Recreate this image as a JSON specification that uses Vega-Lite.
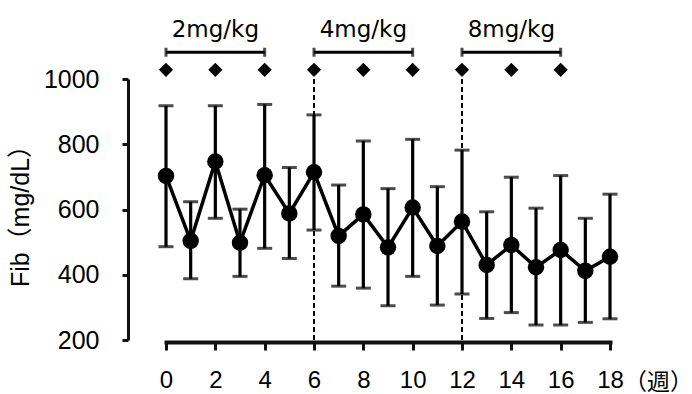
{
  "$schema": "https://vega.github.io/schema/vega-lite/v6.json",
  "width": 444,
  "height": 261,
  "autosize": {"type": "none"},
  "padding": {"left": 166, "top": 79, "right": 82, "bottom": 54},
  "background": "white",
  "config": {
    "view": {"stroke": null},
    "font": "Liberation Sans",
    "axis": {"grid": false, "domain": true, "domainColor": "#111111", "tickColor": "#111111", "labelColor": "black", "titleColor": "black", "domainWidth": 3, "tickWidth": 3, "titleFontWeight": "normal"},
    "axisX": {"domain": true, "domainColor": "#111111", "domainWidth": 4, "domainCap": "square", "tickColor": "#111111", "tickWidth": 3},
    "axisY": {"domain": true, "domainColor": "#111111", "domainWidth": 3, "tickColor": "#111111", "tickWidth": 3}
  },
  "datasets": {
    "fib": [
      {"week": 0, "mean": 703, "lo": 486, "hi": 918},
      {"week": 1, "mean": 504, "lo": 388, "hi": 624},
      {"week": 2, "mean": 747, "lo": 573, "hi": 918},
      {"week": 3, "mean": 498, "lo": 395, "hi": 601},
      {"week": 4, "mean": 705, "lo": 481, "hi": 922},
      {"week": 5, "mean": 588, "lo": 450, "hi": 729},
      {"week": 6, "mean": 714, "lo": 537, "hi": 890},
      {"week": 7, "mean": 519, "lo": 365, "hi": 675},
      {"week": 8, "mean": 585, "lo": 359, "hi": 810},
      {"week": 9, "mean": 484, "lo": 305, "hi": 664},
      {"week": 10, "mean": 606, "lo": 395, "hi": 815},
      {"week": 11, "mean": 488, "lo": 307, "hi": 670},
      {"week": 12, "mean": 563, "lo": 341, "hi": 782},
      {"week": 13, "mean": 430, "lo": 266, "hi": 593},
      {"week": 14, "mean": 491, "lo": 284, "hi": 699},
      {"week": 15, "mean": 423, "lo": 246, "hi": 604},
      {"week": 16, "mean": 476, "lo": 246, "hi": 704},
      {"week": 17, "mean": 412, "lo": 254, "hi": 573},
      {"week": 18, "mean": 455, "lo": 265, "hi": 647}
    ],
    "dose": [{"week": 0}, {"week": 2}, {"week": 4}, {"week": 6}, {"week": 8}, {"week": 10}, {"week": 12}, {"week": 14}, {"week": 16}],
    "period": [
      {"label": "2mg/kg", "start": 0, "end": 4, "mid": 2},
      {"label": "4mg/kg", "start": 6, "end": 10, "mid": 8},
      {"label": "8mg/kg", "start": 12, "end": 16, "mid": 14}
    ],
    "switch": [{"week": 6}, {"week": 12}]
  },
  "layer": [
    {
      "data": {"name": "switch"},
      "mark": {"type": "rule", "color": "black", "strokeWidth": 2, "strokeDash": [5, 3]},
      "encoding": {
        "x": {"field": "week", "type": "quantitative", "scale": {"domain": [0, 18], "nice": false, "zero": false},
              "axis": {"orient": "bottom", "domain": true, "domainColor": "#111111", "domainWidth": 4, "values": [0,1,2,3,4,5,6,7,8,9,10,11,12,13,14,15,16,17,18],
                       "labelExpr": "datum.value % 2 === 0 ? datum.label : ''",
                       "tickSize": 8, "offset": 2, "labelFontSize": 24, "labelPadding": 18, "labelFlush": false, "labelOverlap": false, "format": "d",
                       "encoding": {"ticks": {"update": {"y2": {"signal": "datum.value % 2 === 0 ? 8 : 4"}}}},
                       "title": "（週）", "titleFont": "Liberation Sans, Noto Sans CJK JP", "titleFontSize": 23, "titleAnchor": null, "titleAlign": "center", "titleBaseline": "alphabetic", "titleX": 492, "titleY": 47}},
        "y": {"datum": 200, "type": "quantitative", "scale": {"domain": [200, 1000], "nice": false, "zero": false},
              "axis": {"values": [200, 400, 600, 800, 1000], "format": "d", "tickSize": 6, "offset": 38, "labelFontSize": 25, "labelPadding": 23,
                       "title": "Fib（mg/dL）", "titleFont": "Liberation Sans, Noto Sans CJK JP", "titleFontSize": 25, "titlePadding": 10}},
        "y2": {"datum": 1028}
      }
    },
    {
      "data": {"name": "fib"},
      "mark": {"type": "rule", "color": "black", "strokeWidth": 3.2},
      "encoding": {
        "x": {"field": "week", "type": "quantitative"},
        "y": {"field": "lo", "type": "quantitative"},
        "y2": {"field": "hi"}
      }
    },
    {
      "data": {"name": "fib"},
      "mark": {"type": "tick", "color": "black", "orient": "horizontal", "size": 15, "thickness": 3},
      "encoding": {
        "x": {"field": "week", "type": "quantitative"},
        "y": {"field": "hi", "type": "quantitative"}
      }
    },
    {
      "data": {"name": "fib"},
      "mark": {"type": "tick", "color": "black", "orient": "horizontal", "size": 15, "thickness": 3},
      "encoding": {
        "x": {"field": "week", "type": "quantitative"},
        "y": {"field": "lo", "type": "quantitative"}
      }
    },
    {
      "data": {"name": "fib"},
      "mark": {"type": "line", "color": "black", "strokeWidth": 3.5},
      "encoding": {
        "x": {"field": "week", "type": "quantitative"},
        "y": {"field": "mean", "type": "quantitative"}
      }
    },
    {
      "data": {"name": "fib"},
      "mark": {"type": "circle", "color": "black", "opacity": 1, "size": 270},
      "encoding": {
        "x": {"field": "week", "type": "quantitative"},
        "y": {"field": "mean", "type": "quantitative"}
      }
    },
    {
      "data": {"name": "dose"},
      "mark": {"type": "point", "shape": "diamond", "filled": true, "color": "black", "opacity": 1, "size": 200},
      "encoding": {
        "x": {"field": "week", "type": "quantitative"},
        "y": {"datum": 1028, "type": "quantitative"}
      }
    },
    {
      "data": {"name": "period"},
      "mark": {"type": "rule", "color": "black", "strokeWidth": 3},
      "encoding": {
        "x": {"field": "start", "type": "quantitative"},
        "x2": {"field": "end"},
        "y": {"datum": 1082, "type": "quantitative"}
      }
    },
    {
      "data": {"name": "period"},
      "mark": {"type": "tick", "color": "black", "orient": "vertical", "size": 9, "thickness": 3},
      "encoding": {
        "x": {"field": "start", "type": "quantitative"},
        "y": {"datum": 1082, "type": "quantitative"}
      }
    },
    {
      "data": {"name": "period"},
      "mark": {"type": "tick", "color": "black", "orient": "vertical", "size": 9, "thickness": 3},
      "encoding": {
        "x": {"field": "end", "type": "quantitative"},
        "y": {"datum": 1082, "type": "quantitative"}
      }
    },
    {
      "data": {"name": "period"},
      "mark": {"type": "text", "color": "black", "font": "DejaVu Sans", "fontSize": 23, "align": "center", "baseline": "alphabetic"},
      "encoding": {
        "x": {"field": "mid", "type": "quantitative"},
        "y": {"datum": 1130, "type": "quantitative"},
        "text": {"field": "label"}
      }
    }
  ]
}
